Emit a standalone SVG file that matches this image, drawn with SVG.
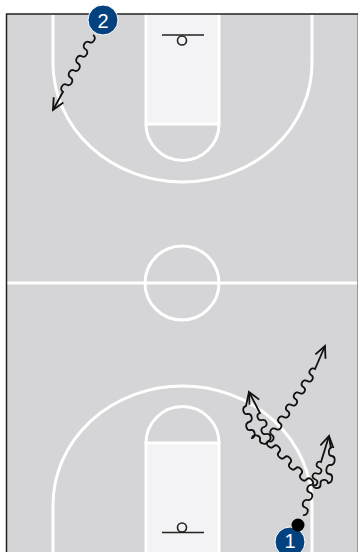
<svg xmlns="http://www.w3.org/2000/svg" width="358" height="552" viewBox="0 0 358 552">
<style>
.line{fill:none;stroke:#fff;stroke-width:3}
.key{fill:#f3f3f5;stroke:#fff;stroke-width:3}
.hoop{fill:none;stroke:#222;stroke-width:1.6}
.move{fill:none;stroke:#111;stroke-width:1.8}
.badge{fill:#03427f;stroke:#fff;stroke-width:1}
.num{font-family:"Liberation Sans",Arial,sans-serif;font-size:20px;fill:#fff;text-anchor:middle}
</style>
<defs>
<marker id="arrow" markerUnits="userSpaceOnUse" markerWidth="16" markerHeight="16" refX="13" refY="8" orient="auto" overflow="visible">
<path d="M1.5 2.5L13 8L1.5 13.5" fill="none" stroke="#111" stroke-width="1.8"/>
</marker>
</defs>
<rect x="0" y="0" width="358" height="552" fill="#fff"/>
<g id="court">
<rect x="6.5" y="14" width="351" height="539" fill="#d5d5d7"/>
<path d="M357.5 14V552" stroke="#9a9a9c" stroke-width="1" fill="none"/>
<path class="key" d="M146 14V124H219V14"/>
<path class="key" d="M146 553V443H219V553"/>
<path class="line" d="M53 15V63A129.5 119 0 0 0 312 63V15"/>
<path class="line" d="M53 552V505A129.5 119 0 0 1 312 505V552"/>
<path class="line" d="M146 124A36.5 36.5 0 0 0 219 124"/>
<path class="line" d="M146 443A36.5 36.5 0 0 1 219 443"/>
<path class="line" d="M7 283H357"/>
<circle class="line" cx="182" cy="283" r="37"/>
<path d="M6.5 552V14H358" fill="none" stroke="#222" stroke-width="1.5"/>
<path class="hoop" d="M162 35H204M162 532.5H204"/>
<circle class="hoop" cx="182" cy="40.5" r="4.5"/>
<circle class="hoop" cx="182" cy="527.5" r="4.5"/>
</g>
<g id="connectors">
<path class="move" marker-end="url(#arrow)" d="M93 35c4.2 2.2 .45 9.3 -3.75 7.1s-7.95 4.9 -3.75 7.1s.45 9.3 -3.75 7.1s-7.95 4.9 -3.75 7.1s.45 9.3 -3.75 7.1s-7.95 4.9 -3.75 7.1s.45 9.3 -3.75 7.1s-7.95 4.9 -3.75 7.1L53 110"/>
<path class="move" d="M303 515c4.5 1.4 6.75 -6.1 2.25 -7.5s-2.25 -8.9 2.25 -7.5s6.75 -6.1 2.25 -7.5s-2.25 -8.9 2.25 -7.5"/>
<path class="move" d="M312 485c3.3 -3.3 -2.2 -8.8 -5.5 -5.5s-8.8 -2.2 -5.5 -5.5s-2.2 -8.8 -5.5 -5.5s-8.8 -2.2 -5.5 -5.5s-2.2 -8.8 -5.5 -5.5s-8.8 -2.2 -5.5 -5.5s-2.2 -8.8 -5.5 -5.5s-8.8 -2.2 -5.5 -5.5"/>
<path class="move" marker-end="url(#arrow)" d="M268 441c3.9 2.6 7.82 -3.4 3.92 -6s.02 -8.6 3.92 -6s7.82 -3.4 3.92 -6s.02 -8.6 3.92 -6s7.82 -3.4 3.92 -6s.02 -8.6 3.92 -6s7.82 -3.4 3.92 -6s.02 -8.6 3.92 -6s7.82 -3.4 3.92 -6s.02 -8.6 3.92 -6s7.82 -3.4 3.92 -6s.02 -8.6 3.92 -6L325 346"/>
<path class="move" d="M268 441c-.85 4.6 -8.85 3.1 -8 -1.5s-7.15 -6.1 -8 -1.5c4.6 -.85 3.1 -8.85 -1.5 -8s-6.1 -7.15 -1.5 -8s3.1 -8.85 -1.5 -8s-6.1 -7.15 -1.5 -8L249 392"/>
<path class="move" marker-end="url(#arrow)" d="M268 441c4.5 -1.3 2.5 -8.3 -2 -7s-6.5 -5.7 -2 -7s2.5 -8.3 -2 -7s-6.5 -5.7 -2 -7L249 392"/>
<path class="move" d="M313 485c.6 4.7 8.1 3.7 7.5 -1s6.9 -5.7 7.5 -1c4.65 .65 5.9 -8.35 1.25 -9s-3.4 -9.65 1.25 -9s5.9 -8.35 1.25 -9s-3.4 -9.65 1.25 -9L329 436"/>
<path class="move" marker-end="url(#arrow)" d="M313 485c4.4 1.5 6.4 -4.25 2 -5.75s-2.4 -7.25 2 -5.75s6.4 -4.25 2 -5.75s-2.4 -7.25 2 -5.75L329 436"/>
</g>
<g id="player-2">
<circle class="badge" cx="103" cy="20" r="15"/>
<text class="num" x="103" y="28">2</text>
</g>
<g id="player-1">
<circle class="badge" cx="290" cy="542" r="15"/>
<text class="num" x="290" y="548">1</text>
</g>
<circle id="ball" cx="298" cy="525" r="6.5" fill="#000"/>
</svg>
